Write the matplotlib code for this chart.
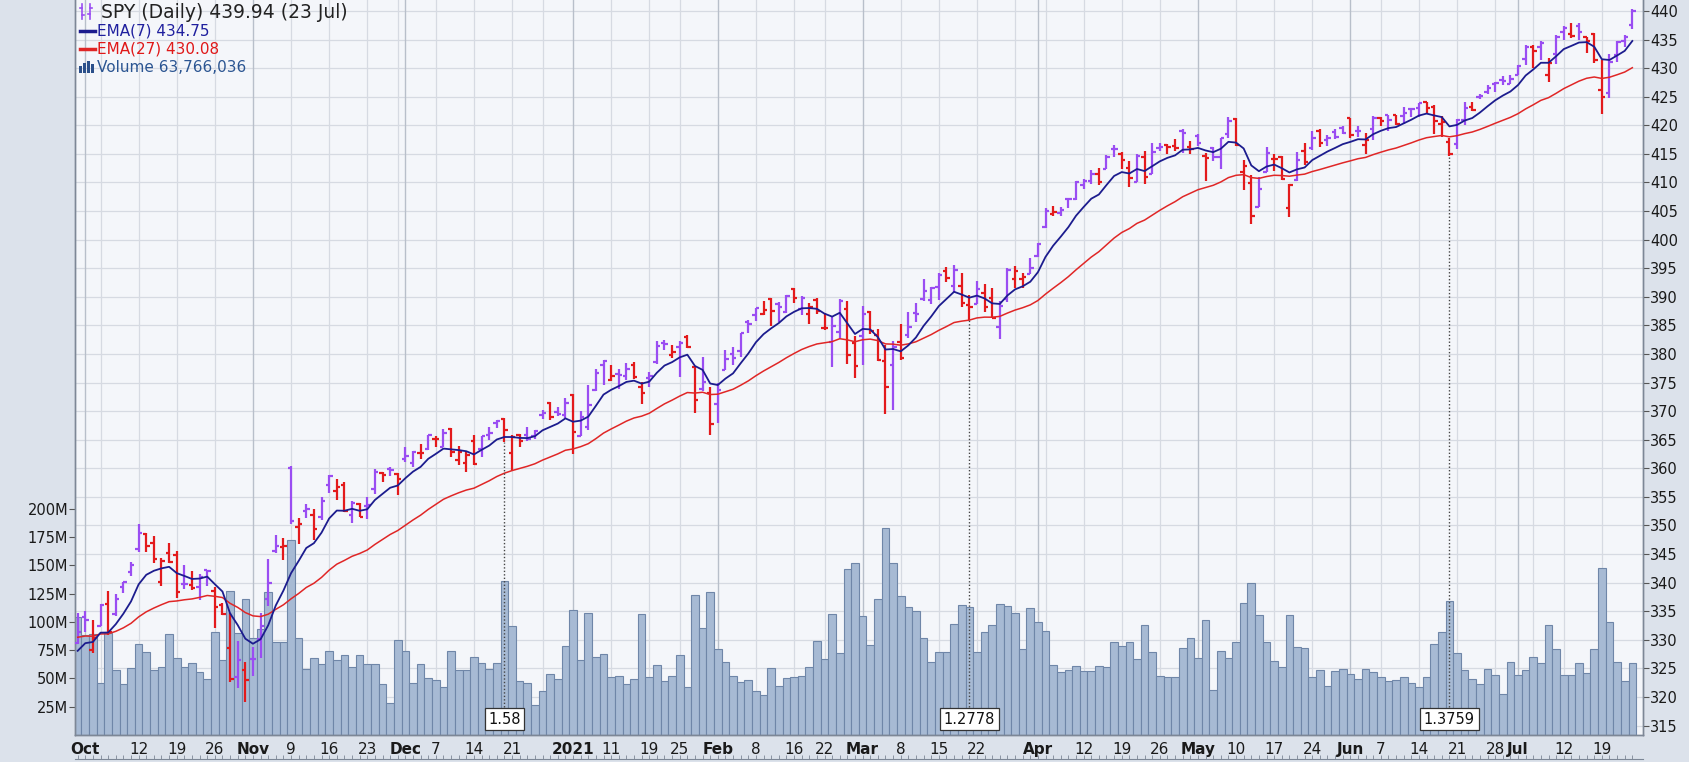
import numpy as np
import pandas as pd
import matplotlib
matplotlib.use("Agg")
import matplotlib.pyplot as plt
from matplotlib.lines import Line2D
from matplotlib.patches import Rectangle
from matplotlib.transforms import blended_transform_factory

W, H = 1690, 762

# SPY daily bars, 30 Sep 2020 .. 23 Jul 2021 (raw prices, volume in millions)
spy_open = [
    333.09,
    337.69, 331.70, 336.06, 339.91, 338.12, 342.85, 345.56, 349.59, 352.28, 350.75, 343.71,
    348.96, 348.65, 343.46, 343.33, 342.96, 345.93, 342.13, 339.76, 332.10, 326.91, 328.28,
    330.20, 333.69, 340.86, 349.24, 349.93, 363.97, 353.49, 356.40, 355.58, 355.27, 360.98,
    359.97, 360.91, 355.60, 357.50, 357.28, 360.21, 363.13, 363.84, 362.83,
    365.57, 364.82, 366.68, 367.32, 369.02, 367.72, 370.88, 365.37, 364.90, 368.64, 367.40,
    369.82, 371.94, 370.97, 364.97, 368.21, 368.28, 368.08, 371.74, 373.81, 372.34, 371.78,
    375.31, 368.10, 369.71, 376.10, 380.59, 377.85, 378.89, 378.69, 380.59, 376.72, 378.34,
    381.11, 384.49, 382.25, 383.67, 385.41, 380.22, 376.36, 375.63,
    373.72, 379.65, 382.44, 382.96, 388.20, 389.27, 389.61, 392.12, 391.24, 389.85, 393.96,
    390.42, 389.59, 392.07, 387.06, 384.66, 386.33, 390.41, 384.35,
    385.59, 389.82, 385.79, 381.22, 380.46, 384.66, 385.85, 389.69, 392.23, 392.07, 394.33,
    397.07, 394.53, 394.48, 389.88, 390.03, 391.91, 391.00, 385.98, 390.93, 394.40, 394.42, 395.34,
    398.40, 403.46, 405.76, 405.94, 408.39, 408.39, 410.85, 411.53, 412.83, 413.74, 417.25,
    416.26, 413.91, 411.51, 415.89, 412.87, 417.44, 417.93, 417.81, 420.32, 417.63,
    419.43, 416.07, 417.38, 415.83, 419.89, 422.50, 413.10, 411.23, 407.07, 413.21, 415.39,
    415.80, 406.92, 411.80, 416.87, 417.34, 420.33, 418.87, 420.17, 420.97,
    422.57, 420.37, 417.85, 420.75, 422.59, 423.11, 423.18, 422.96, 424.20, 424.43, 425.42,
    424.63, 421.67, 417.09, 416.80, 420.85, 423.19, 424.89, 425.90, 427.17, 427.88, 427.21,
    428.87, 431.67, 433.78, 433.66, 428.78, 432.53, 436.24, 436.01, 437.40, 435.43, 436.01,
    426.19, 425.68, 432.34, 434.74, 437.52,
]
spy_high = [
    338.29,
    338.74, 337.02, 339.96, 342.17, 341.63, 343.85, 347.35, 354.02, 352.47, 351.93, 348.02,
    350.75, 349.33, 346.88, 345.67, 345.24, 345.99, 342.98, 340.12, 338.25, 333.40, 329.69,
    332.36, 338.25, 347.94, 352.19, 351.51, 364.38, 355.18, 357.56, 356.72, 358.90, 362.78,
    361.92, 361.50, 358.18, 357.72, 358.82, 363.81, 363.16, 364.18, 363.12,
    367.68, 366.96, 368.19, 369.85, 369.62, 370.78, 371.05, 367.86, 366.74, 369.80, 369.59,
    371.16, 372.46, 371.15, 368.17, 368.33, 369.62, 369.03, 372.59, 374.00, 373.10, 374.66,
    375.45, 372.50, 376.98, 379.90, 381.49, 380.58, 379.86, 380.86, 381.13, 377.58, 379.23,
    384.79, 384.95, 384.13, 384.77, 385.85, 380.32, 381.93, 376.67,
    377.34, 383.22, 383.70, 386.24, 388.47, 390.56, 391.89, 392.28, 391.69, 392.90, 394.17,
    392.66, 391.52, 392.38, 389.62, 388.95, 392.23, 391.88, 385.58,
    390.92, 390.07, 386.83, 384.00, 384.76, 387.68, 389.91, 391.40, 395.65, 394.21, 396.69,
    397.83, 398.12, 396.72, 391.57, 394.07, 393.46, 392.75, 390.55, 396.41, 396.75, 395.45, 398.00,
    400.67, 406.94, 407.24, 406.96, 408.58, 411.67, 411.93, 413.53, 413.96, 416.16, 417.91,
    416.74, 415.09, 416.29, 416.78, 418.25, 418.22, 418.14, 419.01, 420.72, 418.54,
    419.84, 416.60, 417.63, 419.21, 422.82, 422.74, 415.27, 412.59, 412.35, 417.49, 416.39,
    416.06, 411.05, 416.63, 418.20, 420.32, 420.71, 419.61, 420.72, 421.25,
    422.72, 421.23, 419.99, 422.92, 422.78, 423.21, 423.26, 424.63, 424.43, 425.37, 425.46,
    424.87, 423.02, 417.83, 421.06, 424.00, 424.05, 425.55, 427.09, 427.65, 428.56, 428.78,
    430.60, 434.10, 434.01, 434.76, 431.73, 435.84, 437.35, 437.84, 437.92, 435.53, 436.06,
    431.41, 432.42, 434.70, 435.72, 440.30,
]
spy_low = [
    332.88,
    335.01, 331.19, 336.01, 334.38, 337.87, 341.86, 344.89, 349.06, 349.09, 347.14, 343.13,
    347.10, 341.04, 342.64, 342.40, 340.65, 343.13, 335.62, 337.99, 326.13, 325.09, 322.60,
    327.24, 330.29, 339.59, 348.86, 347.65, 354.06, 350.51, 355.06, 351.26, 354.71, 359.59,
    358.34, 356.24, 354.15, 355.25, 354.87, 359.29, 361.48, 362.58, 359.17,
    364.93, 364.20, 365.50, 367.22, 367.72, 367.67, 365.95, 364.43, 363.26, 364.47, 365.92,
    368.87, 371.05, 367.02, 362.03, 366.03, 367.22, 367.45, 371.07, 370.83, 371.57, 371.23,
    364.82, 368.05, 369.12, 375.91, 377.10, 377.72, 376.36, 377.85, 378.10, 373.70, 376.75,
    380.69, 383.25, 381.84, 378.46, 383.54, 372.01, 375.89, 368.27,
    370.38, 379.65, 380.48, 381.97, 386.14, 388.35, 389.43, 387.50, 388.10, 389.77, 391.53,
    389.33, 387.74, 389.55, 386.74, 380.20, 385.27, 380.78, 378.23,
    380.57, 386.00, 381.31, 371.88, 372.64, 381.42, 385.31, 388.17, 391.74, 391.20, 392.03,
    395.08, 393.30, 390.75, 387.15, 389.97, 388.66, 387.47, 383.90, 390.29, 392.81, 392.75, 395.31,
    398.18, 403.38, 405.40, 405.45, 406.93, 408.26, 410.20, 411.12, 410.87, 413.69, 415.73,
    413.79, 410.59, 411.36, 411.13, 412.79, 416.81, 416.30, 416.90, 416.44, 416.34,
    417.67, 411.67, 415.15, 413.68, 419.16, 417.81, 410.06, 404.00, 407.02, 413.18, 413.36,
    411.77, 405.33, 411.67, 414.45, 417.08, 417.62, 417.76, 418.99, 419.79,
    419.20, 419.29, 416.28, 418.84, 421.19, 420.32, 421.41, 421.55, 422.82, 422.82, 423.54,
    419.92, 419.32, 414.70, 415.93, 420.08, 422.51, 424.62, 425.55, 425.89, 427.13, 427.18,
    428.80, 430.52, 430.01, 431.51, 427.52, 430.71, 434.97, 435.31, 434.91, 432.72, 430.92,
    421.97, 424.83, 431.01, 433.69, 436.79,
]
spy_close = [
    334.89,
    337.04, 333.84, 339.76, 334.93, 340.76, 343.78, 346.85, 352.43, 350.13, 347.93, 347.50,
    347.29, 342.01, 343.38, 342.73, 344.61, 345.78, 339.39, 338.22, 326.66, 329.98, 326.54,
    330.20, 336.03, 343.54, 350.24, 350.16, 354.56, 354.04, 356.67, 353.21, 358.10, 362.57,
    360.62, 356.28, 357.78, 355.33, 357.46, 363.22, 362.66, 363.67, 362.06,
    366.02, 366.79, 366.69, 369.85, 369.09, 370.17, 366.85, 366.73, 366.30, 364.66, 369.59,
    370.17, 372.24, 369.18, 367.86, 367.24, 367.57, 369.00, 372.17, 371.46, 371.99, 373.88,
    368.79, 371.33, 373.55, 379.10, 381.26, 378.69, 378.77, 379.79, 378.46, 375.70, 378.65,
    383.89, 384.24, 382.88, 384.39, 383.79, 374.41, 377.63, 370.07,
    376.23, 381.55, 381.85, 386.19, 387.71, 390.51, 390.25, 390.08, 390.71, 392.64, 392.30,
    392.39, 390.72, 390.03, 387.03, 387.50, 391.77, 382.33, 380.36,
    389.58, 386.54, 381.42, 376.70, 383.63, 381.72, 387.17, 389.58, 393.53, 394.06, 396.41,
    395.91, 397.26, 391.48, 389.48, 392.59, 389.50, 387.52, 389.70, 395.98, 395.78, 394.73, 396.33,
    400.61, 406.36, 406.12, 406.59, 408.52, 411.49, 411.64, 412.86, 411.45, 415.87, 417.26,
    415.21, 412.17, 416.07, 412.27, 416.74, 417.61, 417.52, 417.40, 420.06, 417.30,
    418.20, 415.62, 415.75, 419.07, 422.12, 417.94, 414.21, 405.41, 410.28, 416.58, 415.52,
    411.94, 410.86, 415.28, 414.94, 419.17, 418.24, 419.07, 419.29, 420.04,
    419.67, 420.33, 418.77, 422.60, 422.19, 422.28, 421.65, 423.61, 424.31, 425.26, 424.48,
    422.11, 421.97, 414.92, 420.86, 423.11, 422.60, 425.10, 426.61, 427.47, 427.70, 428.06,
    430.43, 433.72, 432.93, 434.46, 430.92, 435.52, 437.08, 435.59, 436.24, 434.75, 431.34,
    424.97, 431.06, 434.55, 435.46, 439.94,
]
spy_volume = [
    104.1,
    88.7, 89.4, 45.7, 90.1, 57.4, 45.2, 59.5, 80.4, 73.4, 57.9, 60.4,
    89.5, 68.4, 60.1, 63.6, 55.4, 49.1, 91.5, 65.9, 127.7, 90.4, 120.4,
    86.1, 93.3, 126.5, 82.0, 82.0, 172.3, 85.6, 58.6, 68.1, 62.9, 74.5,
    66.1, 70.6, 59.9, 70.4, 63.2, 62.4, 45.3, 28.5, 83.9,
    74.5, 45.9, 62.9, 50.7, 48.9, 42.5, 74.1, 57.7, 57.7, 69.2, 64.1,
    58.4, 64.1, 136.5, 96.4, 47.9, 46.2, 26.5, 39.0, 53.7, 49.5, 78.5,
    110.2, 66.4, 107.9, 68.8, 71.7, 51.0, 52.5, 45.3, 49.9, 107.2, 51.2,
    61.8, 47.8, 52.5, 70.4, 42.7, 123.4, 94.2, 126.8,
    75.8, 64.5, 52.4, 47.1, 48.7, 38.8, 35.6, 59.2, 42.9, 50.6, 50.9,
    52.3, 59.7, 83.2, 67.4, 107.3, 72.4, 146.7, 152.2,
    105.3, 79.6, 119.9, 183.4, 152.0, 123.1, 113.6, 109.9, 86.2, 64.7, 73.4,
    73.7, 97.9, 115.3, 113.6, 73.8, 90.7, 97.6, 116.1, 114.4, 108.1, 76.3, 112.7,
    99.6, 91.7, 62.0, 55.8, 57.9, 61.1, 56.7, 56.6, 61.4, 60.2, 82.0,
    78.5, 81.9, 66.8, 97.6, 73.2, 52.2, 51.3, 51.2, 76.9, 85.5,
    68.1, 101.6, 39.6, 74.3, 67.7, 82.2, 116.9, 134.8, 106.4, 82.2, 65.1,
    59.8, 106.5, 78.0, 76.6, 51.4, 57.5, 43.1, 56.8, 58.5,
    54.2, 49.1, 58.1, 55.9, 51.6, 48.0, 48.4, 51.0, 45.6, 42.4, 51.5,
    80.1, 90.9, 118.7, 72.8, 57.7, 49.4, 45.1, 58.1, 53.2, 35.9, 64.8,
    53.4, 57.7, 68.7, 63.5, 97.6, 76.2, 52.9, 52.9, 64.1, 55.1, 75.9,
    148.0, 99.6, 64.7, 47.9, 63.8,
]

# closes of Aug/Sep 2020, only used to warm up the moving averages
warmup_close = [
    328.79, 330.06, 332.11, 334.33, 334.57, 335.57, 332.80, 337.44, 336.83, 336.84, 337.91,
    338.64, 337.23, 338.28, 339.48, 342.92, 344.12, 347.57, 348.33, 350.58, 349.31,
    352.60, 357.70, 345.39, 342.57, 333.21, 339.79, 333.89, 334.06, 338.46, 340.17, 338.82,
    335.84, 330.65, 326.97, 330.30, 322.64, 323.50, 328.73, 334.19, 332.37,
]

holidays = ["2020-09-07", "2020-11-26", "2020-12-25", "2021-01-01", "2021-01-18",
            "2021-02-15", "2021-04-02", "2021-05-31", "2021-07-05"]
div_dates = ["2020-09-18", "2020-12-18", "2021-03-19", "2021-06-18"]
div_amount = [1.3386, 1.5792, 1.2778, 1.3759]
div_text = ["", "1.58", "1.2778", "1.3759"]

tick_dates = ["2020-10-01", "2020-10-12", "2020-10-19", "2020-10-26", "2020-11-02", "2020-11-09",
              "2020-11-16", "2020-11-23", "2020-12-01", "2020-12-07", "2020-12-14", "2020-12-21",
              "2021-01-04", "2021-01-11", "2021-01-19", "2021-01-25", "2021-02-01", "2021-02-08",
              "2021-02-16", "2021-02-22", "2021-03-01", "2021-03-08", "2021-03-15", "2021-03-22",
              "2021-04-01", "2021-04-12", "2021-04-19", "2021-04-26", "2021-05-03", "2021-05-10",
              "2021-05-17", "2021-05-24", "2021-06-01", "2021-06-07", "2021-06-14", "2021-06-21",
              "2021-06-28", "2021-07-01", "2021-07-12", "2021-07-19"]
tick_text = ["Oct", "12", "19", "26", "Nov", "9", "16", "23", "Dec", "7", "14", "21",
             "2021", "11", "19", "25", "Feb", "8", "16", "22", "Mar", "8", "15", "22",
             "Apr", "12", "19", "26", "May", "10", "17", "24", "Jun", "7", "14", "21",
             "28", "Jul", "12", "19"]

# trading calendar
days = pd.bdate_range("2020-08-03", "2021-07-23")
days = days[~days.isin(pd.to_datetime(holidays))]
nw = len(warmup_close)
vis_days = days[nw:]

# dividend adjustment like the chart does
all_close = np.array(warmup_close + spy_close)
factor = np.ones(len(days))
for d, a in zip(div_dates, div_amount):
    k = days.get_loc(pd.Timestamp(d))
    factor[:k] *= 1 - a / all_close[k - 1]
adj_all = all_close * factor
f = factor[nw:]
o = np.array(spy_open) * f
hi = np.array(spy_high) * f
lo = np.array(spy_low) * f
cl = np.array(spy_close) * f
vol = np.array(spy_volume)

ema7 = pd.Series(adj_all).ewm(span=7, adjust=False).mean().values[nw:]
ema27 = pd.Series(adj_all).ewm(span=27, adjust=False).mean().values[nw:]

x = np.arange(len(spy_close))
prev = np.r_[adj_all[nw - 1], cl[:-1]]
cols = np.where(cl >= prev, "#9a4df2", "#e31a1c")

fig = plt.figure(figsize=(W / 100, H / 100), dpi=100)
fig.patch.set_facecolor("#dce2eb")
L, R, B = 75, 1643, 735
ax_v = fig.add_axes([L / W, (H - B) / H, (R - L) / W, B / H])
ax_p = ax_v.twinx()
ax_v.set_facecolor("#f4f6fa")

xlim = (-0.35, 205.4)
ax_v.set_xlim(*xlim)
ax_v.set_ylim(0, 650)
ax_p.set_ylim(313.34, 441.92)

# grid: price levels and week / month starts
gtrans = blended_transform_factory(ax_v.transAxes, ax_p.transData)
for p in range(315, 445, 5):
    ax_v.plot([0, 1], [p, p], transform=gtrans, color="#d6dae2", lw=0.9, zorder=0)
for i in range(1, len(vis_days)):
    d0, d1 = vis_days[i - 1], vis_days[i]
    if d1.month != d0.month:
        ax_v.axvline(i, color="#b8bfca", lw=1.0, zorder=0)
    elif d1.isocalendar()[1] != d0.isocalendar()[1]:
        ax_v.axvline(i, color="#d6dae2", lw=0.9, zorder=0)

ax_v.bar(x, vol, width=1.0, color="#a7bad4", edgecolor="#6f86a8", lw=0.8, zorder=2)

# OHLC bars
ax_p.vlines(x, lo, hi, colors=cols, lw=1.6, zorder=3)
ax_p.hlines(o, x - 0.45, x, colors=cols, lw=1.6, zorder=3)
ax_p.hlines(cl, x, x + 0.45, colors=cols, lw=1.6, zorder=3)
ax_p.plot(x, ema27, color="#e02626", lw=1.1, zorder=4)
ax_p.plot(x, ema7, color="#1c1c8e", lw=1.3, zorder=4)

# dividend markers
for d, t in zip(div_dates, div_text):
    if not t:
        continue
    i = vis_days.get_loc(pd.Timestamp(d))
    ax_p.vlines(i, 318.2, lo[i], colors="#444444", lw=1.0, linestyles=(0, (1, 1.5)), zorder=5)
    ax_p.text(i, 316.1, t, ha="center", va="center", fontsize=10.5, color="#111111", zorder=6,
              bbox=dict(boxstyle="square,pad=0.25", fc="white", ec="#333333", lw=0.9))

# axes styling
ax_v.spines["top"].set_visible(False)
ax_p.spines["top"].set_visible(False)
for ax in (ax_v, ax_p):
    for s in ["left", "right", "bottom"]:
        ax.spines[s].set_color("#7d8796")
        ax.spines[s].set_linewidth(1.0)

ax_v.set_yticks(np.arange(25, 201, 25))
ax_v.set_yticklabels([f"{v}M" for v in range(25, 201, 25)])
ax_v.tick_params(axis="y", length=4, width=0.8, color="#555555", labelsize=10.5,
                 labelcolor="#1a1a1a", pad=1)
ax_p.set_yticks(np.arange(315, 441, 5))
ax_p.tick_params(axis="y", length=4, width=0.8, color="#555555", labelsize=10.5,
                 labelcolor="#1a1a1a", pad=1)

tick_pos = [vis_days.get_loc(pd.Timestamp(d)) for d in tick_dates]
ax_v.set_xticks(tick_pos)
ax_v.set_xticklabels(tick_text)
ax_v.tick_params(axis="x", length=0, labelsize=11, labelcolor="#1a1a1a", pad=5)
for lab in ax_v.get_xticklabels():
    if not lab.get_text().isdigit() or lab.get_text() == "2021":
        lab.set_fontweight("bold")

# little day ticks along the bottom edge
ax_s = fig.add_axes([L / W, 3 / H, (R - L) / W, 4 / H])
ax_s.set_xlim(*xlim)
ax_s.patch.set_visible(False)
for s in ["top", "left", "right"]:
    ax_s.spines[s].set_visible(False)
ax_s.spines["bottom"].set_color("#7d8796")
ax_s.set_yticks([])
ax_s.set_xticks(x)
ax_s.tick_params(axis="x", direction="in", length=3, width=0.6, color="#7d8796", labelbottom=False)


# legend block in the top-left corner
def px(xp, yp):
    return xp / W, 1 - yp / H


purple = "#9a4df2"
fig.add_artist(Line2D([82 / W, 82 / W], [1 - 4 / H, 1 - 19 / H], color=purple, lw=1.2))
fig.add_artist(Line2D([90 / W, 90 / W], [1 - 4 / H, 1 - 19 / H], color=purple, lw=1.2))
fig.add_artist(Line2D([80 / W, 82 / W], [1 - 8 / H, 1 - 8 / H], color=purple, lw=1.2))
fig.add_artist(Line2D([82 / W, 84 / W], [1 - 15 / H, 1 - 15 / H], color=purple, lw=1.2))
fig.add_artist(Line2D([88 / W, 90 / W], [1 - 14 / H, 1 - 14 / H], color=purple, lw=1.2))
fig.add_artist(Line2D([90 / W, 92 / W], [1 - 8 / H, 1 - 8 / H], color=purple, lw=1.2))
fig.add_artist(Line2D([80 / W, 95 / W], [1 - 31 / H, 1 - 31 / H], color="#1c1c8e", lw=2.5))
fig.add_artist(Line2D([80 / W, 95 / W], [1 - 49 / H, 1 - 49 / H], color="#e02626", lw=2.5))
for bx, bh in [(81, 7), (85, 10), (89, 12), (93, 9)]:
    fig.patches.append(Rectangle(px(bx - 1.5, 73), 3 / W, bh / H, transform=fig.transFigure,
                                 fc="#2b4f8a", ec="none", zorder=6))

fig.text(*px(101, 12), "SPY (Daily) 439.94 (23 Jul)", fontsize=13.5, color="#222222",
         va="center", ha="left")
fig.text(*px(97, 31), "EMA(7) 434.75", fontsize=11, color="#1f1f9e", va="center", ha="left")
fig.text(*px(97, 49), "EMA(27) 430.08", fontsize=11, color="#e01818", va="center", ha="left")
fig.text(*px(97, 67), "Volume 63,766,036", fontsize=11, color="#2b5592", va="center", ha="left")

fig.savefig("out.png", dpi=100, facecolor=fig.get_facecolor())
